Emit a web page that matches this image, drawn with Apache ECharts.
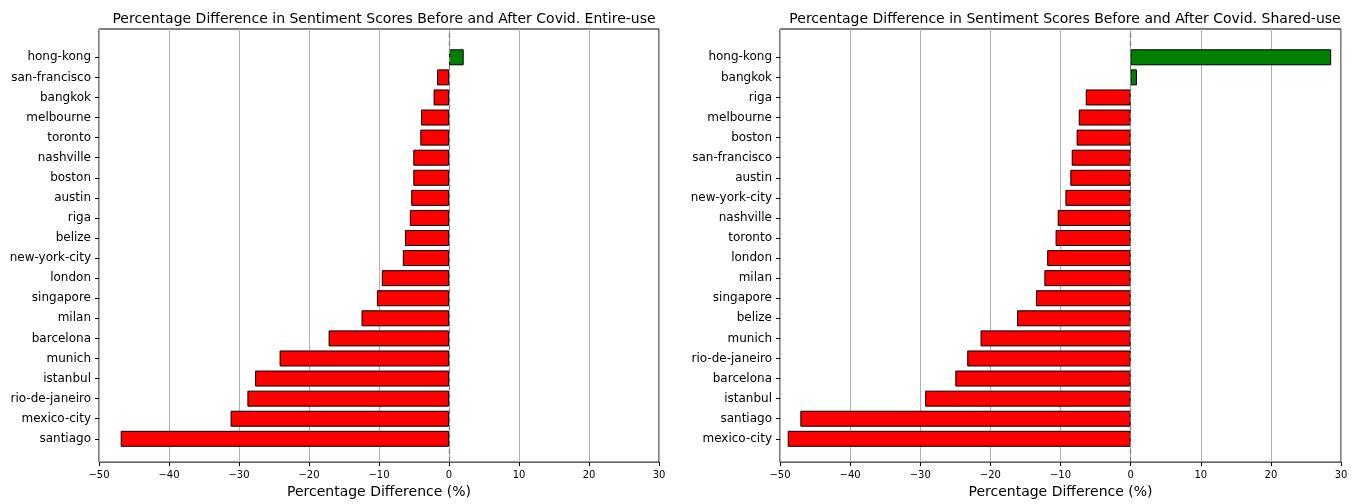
<!DOCTYPE html>
<html>
<head>
<meta charset="utf-8">
<script src="https://cdn.jsdelivr.net/npm/echarts@6/dist/echarts.min.js"></script>
<style>
  html, body { margin: 0; padding: 0; background: #fff; }
  #chart { width: 1352px; height: 504px; }
</style>
</head>
<body>
<div id="chart"></div>
<script>
/* -------------------------------------------------------------------------- */
/*                Sentiment difference before / after Covid                   */
/* -------------------------------------------------------------------------- */

const citiesEntire = [
  'hong-kong', 'san-francisco', 'bangkok', 'melbourne', 'toronto',
  'nashville', 'boston', 'austin', 'riga', 'belize',
  'new-york-city', 'london', 'singapore', 'milan', 'barcelona',
  'munich', 'istanbul', 'rio-de-janeiro', 'mexico-city', 'santiago'
];
const diffEntire = [
  2.1, -1.7, -2.2, -4.0, -4.1,
  -5.1, -5.1, -5.4, -5.6, -6.3,
  -6.6, -9.6, -10.3, -12.5, -17.2,
  -24.2, -27.7, -28.8, -31.2, -46.9
];

const citiesShared = [
  'hong-kong', 'bangkok', 'riga', 'melbourne', 'boston',
  'san-francisco', 'austin', 'new-york-city', 'nashville', 'toronto',
  'london', 'milan', 'singapore', 'belize', 'munich',
  'rio-de-janeiro', 'barcelona', 'istanbul', 'santiago', 'mexico-city'
];
const diffShared = [
  28.6, 0.9, -6.4, -7.4, -7.7,
  -8.4, -8.6, -9.3, -10.4, -10.7,
  -11.9, -12.3, -13.5, -16.2, -21.4,
  -23.3, -25.0, -29.3, -47.1, -48.9
];

const titles = [
  'Percentage Difference in Sentiment Scores Before and After Covid. Entire-use',
  'Percentage Difference in Sentiment Scores Before and After Covid. Shared-use'
];

const FONT = 'DejaVu Sans';
const chart = echarts.init(document.getElementById('chart'), null, { renderer: 'canvas' });

// two panels: a frame grid (border, x axis, grid lines) and a bar grid (categories)
const panels = [
  { left: 99, right: 693, center: 379, cities: citiesEntire, values: diffEntire, title: titles[0] },
  { left: 780, right: 11, center: 1060, cities: citiesShared, values: diffShared, title: titles[1] }
];

const grid = [];
const xAxis = [];
const yAxis = [];
const series = [];
const title = [];

panels.forEach((p, i) => {
  const frame = i * 2;
  const bars = i * 2 + 1;

  title.push({
    text: p.title,
    left: p.center,
    top: 7,
    textAlign: 'center',
    textStyle: { fontFamily: FONT, fontSize: 14, fontWeight: 'normal', color: '#000' }
  });

  grid.push(
    { left: p.left, right: p.right, top: 29, bottom: 37, show: true, borderColor: '#000', borderWidth: 1, backgroundColor: '#fff' },
    { left: p.left, right: p.right, top: 57.3, bottom: 65.2 }
  );

  xAxis.push(
    {
      gridIndex: frame,
      type: 'value',
      min: -50,
      max: 30,
      interval: 10,
      axisLine: { show: false },
      axisTick: { show: true, length: 4, lineStyle: { color: '#000' } },
      axisLabel: {
        fontFamily: FONT, fontSize: 10, color: '#000', margin: 8,
        showMinLabel: true, showMaxLabel: true,
        formatter: v => (v < 0 ? '\u2212' + Math.abs(v) : String(v))
      },
      splitLine: { show: true, lineStyle: { color: '#b0b0b0', width: 1 } },
      name: 'Percentage Difference (%)',
      nameLocation: 'middle',
      nameGap: 22,
      nameTextStyle: { fontFamily: FONT, fontSize: 14, color: '#000' }
    },
    { gridIndex: bars, type: 'value', min: -50, max: 30, show: false }
  );

  yAxis.push(
    { gridIndex: frame, type: 'value', min: 0, max: 1, show: false },
    {
      gridIndex: bars,
      type: 'category',
      data: p.cities,
      inverse: true,
      boundaryGap: false,
      axisLine: { show: false, onZero: false },
      axisTick: { show: true, length: 4, lineStyle: { color: '#000' } },
      axisLabel: { fontFamily: FONT, fontSize: 12, color: '#000', margin: 8, interval: 0 },
      splitLine: { show: false }
    }
  );

  // zero reference line across the full frame
  series.push({
    type: 'line',
    xAxisIndex: frame,
    yAxisIndex: frame,
    data: [],
    silent: true,
    markLine: {
      silent: true,
      symbol: 'none',
      label: { show: false },
      lineStyle: { color: '#808080', type: [5, 3], width: 1.3 },
      data: [{ xAxis: 0 }]
    }
  });

  series.push({
    type: 'bar',
    xAxisIndex: bars,
    yAxisIndex: bars,
    barWidth: 16,
    clip: false,
    silent: true,
    z: 3,
    data: p.values.map(v => ({
      value: v,
      itemStyle: { color: v >= 0 ? '#008000' : '#ff0000' }
    })),
    itemStyle: { borderColor: '#000', borderWidth: 1 }
  });
});

chart.setOption({
  animation: false,
  backgroundColor: '#fff',
  title,
  grid,
  xAxis,
  yAxis,
  series
});
</script>
</body>
</html>
